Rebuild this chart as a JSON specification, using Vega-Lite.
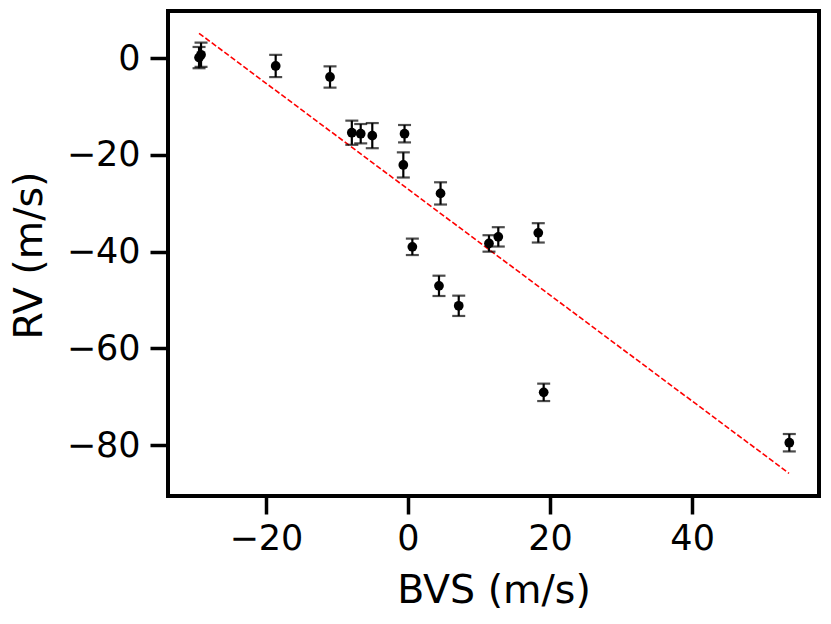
{
  "$schema": "https://vega.github.io/schema/vega-lite/v6.json",
  "width": 651,
  "height": 485,
  "autosize": {"type": "none"},
  "padding": {"left": 168, "top": 11, "right": 12, "bottom": 128},
  "datasets": {
    "rv": [
      {"bvs": -29.42, "rv": 0.14, "err": 2.2},
      {"bvs": -29.14, "rv": 0.72, "err": 2.5},
      {"bvs": -18.63, "rv": -1.59, "err": 2.3},
      {"bvs": -10.98, "rv": -3.87, "err": 2.2},
      {"bvs": -7.91, "rv": -15.4, "err": 2.5},
      {"bvs": -6.66, "rv": -15.6, "err": 2.0},
      {"bvs": -5.03, "rv": -16.0, "err": 2.6},
      {"bvs": -0.49, "rv": -15.6, "err": 1.8},
      {"bvs": -0.66, "rv": -22.06, "err": 2.6},
      {"bvs": 4.58, "rv": -27.95, "err": 2.3},
      {"bvs": 0.61, "rv": -39.0, "err": 1.7},
      {"bvs": 4.36, "rv": -47.07, "err": 2.1},
      {"bvs": 7.14, "rv": -51.2, "err": 2.1},
      {"bvs": 11.4, "rv": -38.3, "err": 1.7},
      {"bvs": 12.71, "rv": -36.94, "err": 2.0},
      {"bvs": 18.34, "rv": -36.11, "err": 2.0},
      {"bvs": 19.1, "rv": -69.1, "err": 1.8},
      {"bvs": 53.68, "rv": -79.52, "err": 1.8}
    ],
    "fit": [
      {"bvs": -29.42, "rv": 5.17},
      {"bvs": 53.64, "rv": -85.85}
    ]
  },
  "encoding": {
    "x": {
      "field": "bvs",
      "type": "quantitative",
      "scale": {"domain": [-33.79, 57.86], "nice": false, "zero": false},
      "axis": {
        "title": "BVS (m/s)",
        "values": [-20, 0, 20, 40],
        "grid": false,
        "domain": false,
        "tickSize": 18,
        "tickWidth": 3.5,
        "tickColor": "black",
        "labelFontSize": 35,
        "labelBaseline": "alphabetic",
        "labelPadding": 35,
        "titleFontSize": 39.5,
        "titleFontWeight": "normal",
        "titleBaseline": "alphabetic",
        "titleY": 106.7
      }
    },
    "y": {
      "field": "rv",
      "type": "quantitative",
      "scale": {"domain": [-90.54, 9.78], "nice": false, "zero": false},
      "axis": {
        "title": "RV (m/s)",
        "values": [0, -20, -40, -60, -80],
        "grid": false,
        "domain": false,
        "tickSize": 18,
        "tickWidth": 3.5,
        "tickColor": "black",
        "labelFontSize": 35,
        "labelPadding": 10,
        "titleFontSize": 39.5,
        "titleFontWeight": "normal",
        "titleBaseline": "alphabetic",
        "titleAngle": -90,
        "titleX": -126.3,
        "titleY": 244
      }
    }
  },
  "layer": [
    {
      "data": {"name": "fit"},
      "mark": {"type": "line", "color": "#ff0000", "strokeWidth": 1.6, "strokeDash": [5.5, 2.4]}
    },
    {
      "data": {"name": "rv"},
      "mark": {
        "type": "errorbar",
        "color": "black",
        "ticks": {"size": 13, "thickness": 2.2, "color": "black"},
        "rule": {"strokeWidth": 2.2, "color": "black"}
      },
      "encoding": {
        "yError": {"field": "err"}
      }
    },
    {
      "data": {"name": "rv"},
      "mark": {"type": "point", "filled": true, "color": "black", "size": 95, "opacity": 1}
    }
  ],
  "config": {
    "background": "white",
    "font": "DejaVu Sans",
    "view": {"stroke": "black", "strokeWidth": 4},
    "axis": {"labelColor": "black", "titleColor": "black", "labelFont": "DejaVu Sans", "titleFont": "DejaVu Sans"}
  }
}
